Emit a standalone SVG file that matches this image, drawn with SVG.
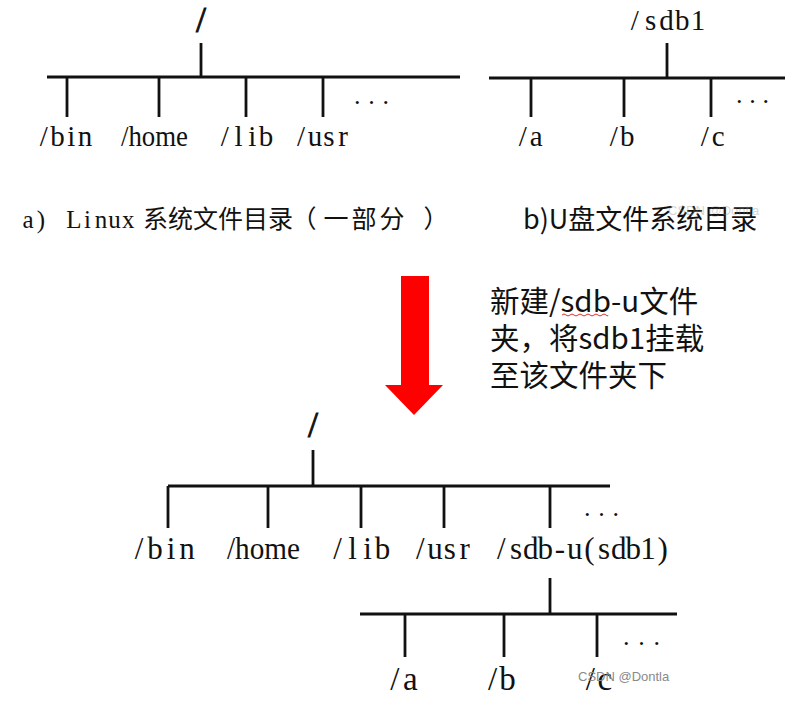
<svg xmlns="http://www.w3.org/2000/svg" width="792" height="711" viewBox="0 0 792 711">
<style>
.ln{stroke:#111;stroke-width:2.8;fill:none;stroke-linecap:butt}
.lb{font-family:"Liberation Serif",serif;fill:#111;font-size:29px;text-anchor:middle}
.lb2{font-family:"Liberation Serif",serif;fill:#111;font-size:31px;text-anchor:middle}
.lb3{font-family:"Liberation Serif",serif;fill:#111;font-size:33px;text-anchor:middle}
.st{text-anchor:start}
.root{font-family:"Liberation Serif",serif;fill:#111;font-size:36px;stroke:#111;stroke-width:0.9}
.dots{font-family:"Liberation Serif",serif;fill:#111;font-size:26px}
.capa{font-family:"Liberation Serif","Noto Sans CJK SC",serif;fill:#111;font-size:25px;text-anchor:middle}
.cj{font-family:"Noto Sans CJK SC",sans-serif;font-size:25px}
.capb{font-family:"Noto Sans CJK SC","Noto Sans",sans-serif;fill:#111;font-size:27px}
.note{font-family:"Noto Sans CJK SC","Noto Sans",sans-serif;fill:#111;font-size:29.5px}
.wm{font-family:"Liberation Sans",sans-serif;fill:#8a8a8a;font-size:13px}
</style>
<rect width="792" height="711" fill="#fff"/>
<g id="connectors">
  <line class="ln" x1="201" y1="43" x2="201" y2="77"/>
  <line class="ln" x1="47" y1="77" x2="460" y2="77"/>
  <line class="ln" x1="67" y1="77" x2="67" y2="117"/>
  <line class="ln" x1="159" y1="77" x2="159" y2="117"/>
  <line class="ln" x1="246" y1="77" x2="246" y2="117"/>
  <line class="ln" x1="323" y1="77" x2="323" y2="117"/>
  <line class="ln" x1="667" y1="43" x2="667" y2="78"/>
  <line class="ln" x1="489" y1="78" x2="785" y2="78"/>
  <line class="ln" x1="531" y1="78" x2="531" y2="117"/>
  <line class="ln" x1="624" y1="78" x2="624" y2="117"/>
  <line class="ln" x1="711" y1="78" x2="711" y2="117"/>
  <line class="ln" x1="313" y1="450" x2="313" y2="486"/>
  <line class="ln" x1="168" y1="486" x2="610" y2="486"/>
  <line class="ln" x1="168" y1="486" x2="168" y2="528"/>
  <line class="ln" x1="268" y1="486" x2="268" y2="528"/>
  <line class="ln" x1="361" y1="486" x2="361" y2="528"/>
  <line class="ln" x1="444" y1="486" x2="444" y2="528"/>
  <line class="ln" x1="550" y1="486" x2="550" y2="528"/>
  <line class="ln" x1="550" y1="578" x2="550" y2="614"/>
  <line class="ln" x1="360" y1="614" x2="677" y2="614"/>
  <line class="ln" x1="405" y1="614" x2="405" y2="657"/>
  <line class="ln" x1="504" y1="614" x2="504" y2="657"/>
  <line class="ln" x1="597" y1="614" x2="597" y2="657"/>
</g>
<g id="tree-a-root"><text class="root" x="196" y="32">/</text></g>
<g id="tree-a-bin"><text class="lb" x="43.9 57.6 71.4 85.1" y="146">/bin</text></g>
<g id="tree-a-home"><text class="lb st" x="121" y="146" textLength="67" lengthAdjust="spacingAndGlyphs">/home</text></g>
<g id="tree-a-lib"><text class="lb" x="224.9 238.6 252.4 266.1" y="146">/lib</text></g>
<g id="tree-a-usr"><text class="lb" x="301 315 329 343" y="146">/usr</text></g>
<g id="tree-a-more"><text class="dots" x="354" y="104" textLength="35" lengthAdjust="spacing">...</text></g>
<g id="tree-b-root"><text class="lb" x="634.9 650.7 666.5 682.3 698.1" y="30">/sdb1</text></g>
<g id="tree-b-a"><text class="lb" x="522.8 536.3" y="146">/a</text></g>
<g id="tree-b-b"><text class="lb" x="613.8 627.3" y="146">/b</text></g>
<g id="tree-b-c"><text class="lb" x="704.8 718.3" y="146">/c</text></g>
<g id="tree-b-more"><text class="dots" x="736" y="103" textLength="33" lengthAdjust="spacing">...</text></g>
<g id="caption-a"><text class="capa" y="228"><tspan x="28 41 54 73.8 87.4 101 114.6 128.2 141">a) Linux </tspan><tspan class="cj" x="155.5 180.5 205.5 230.5 255.5 280.5 304 336 364 392 436">系统文件目录（一部分）</tspan></text></g>
<g id="caption-b"><text class="capb" x="523" y="229">b)U盘文件系统目录</text></g>
<text class="wm" x="668" y="215" opacity="0.35">CSDN @Dontla</text>
<g id="arrow"><polygon points="401,276 429,276 429,385 443,385 414,415 385,385 401,385" fill="#ff0000"/></g>
<g id="note">
  <text class="note" x="490" y="312">新建/sdb-u文件</text>
  <text class="note" x="490" y="349">夹，将sdb1挂载</text>
  <text class="note" x="490" y="386">至该文件夹下</text>
  <path d="M562,315 q2,-2 4,0 t4,0 t4,0 t4,0 t4,0 t4,0 t4,0 t4,0 t4,0 t4,0 t4,0 t2,0" stroke="#e03030" stroke-width="1" fill="none"/>
</g>
<g id="tree-c-root"><text class="root" x="308" y="437">/</text></g>
<g id="tree-c-bin"><text class="lb2" x="139 155 171 187" y="559">/bin</text></g>
<g id="tree-c-home"><text class="lb2 st" x="227" y="559" textLength="73" lengthAdjust="spacingAndGlyphs">/home</text></g>
<g id="tree-c-lib"><text class="lb2" x="337.5 352.5 367.5 382.5" y="559">/lib</text></g>
<g id="tree-c-usr"><text class="lb2" x="420.4 435.1 449.9 464.6" y="559">/usr</text></g>
<g id="tree-c-sdbu"><text class="lb2" x="501.3 516 530.7 545.3 560 574.7 589.3 604 618.7 633.3 648 662.7" y="559">/sdb-u(sdb1)</text></g>
<g id="tree-c-more"><text class="dots" x="584" y="516" textLength="35" lengthAdjust="spacing">...</text></g>
<g id="tree-c-a"><text class="lb3" x="394.75 410.25" y="690">/a</text></g>
<g id="tree-c-b"><text class="lb3" x="492.5 507.5" y="690">/b</text></g>
<g id="tree-c-c"><text class="lb3" x="590.25 604.75" y="690">/c</text></g>
<g id="tree-c-more2"><text class="dots" x="623" y="645" textLength="37" lengthAdjust="spacing">...</text></g>
<text class="wm" x="578" y="681">CSDN @Dontla</text>
</svg>
